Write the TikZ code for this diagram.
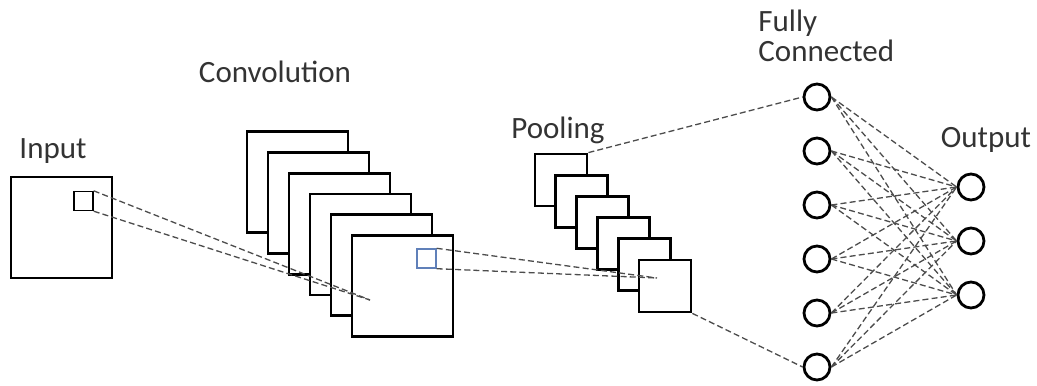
\documentclass[tikz,border=0pt]{standalone}
\usepackage{fontspec}
\setmainfont{Carlito}
\definecolor{patchblue}{RGB}{96,128,185}

\begin{document}
\begin{tikzpicture}[x=0.5pt,y=-0.5pt,
        fmap/.style={draw=black, fill=white, line width=1.4pt, inner sep=0pt, minimum size=#1},
        patch/.style={draw=#1, line width=0.7pt, inner sep=0pt, minimum size=9.5pt},
        neuron/.style={circle, draw=black, fill=white, line width=1.4pt, inner sep=0pt, minimum size=13pt},
        link/.style={draw=black!70, line width=0.65pt, dash pattern=on 3pt off 1.6pt},
        lbl/.style={font=\fontsize{15.5}{15}\selectfont, inner sep=0pt, text=black!80}]
    \useasboundingbox (0,0) rectangle (1037,385);
    % input image
    \node[fmap=50.5pt] (inp) at (61.5,227.5) {};
    \node[patch=black] (inpatch) at (83.5,201) {};
    \node[lbl, anchor=base] (inplbl) at (53,158) {Input};
    % convolution maps
    \foreach \i in {0,...,5}
        \node[fmap=50.5pt] (conv\i) at (297.5+21*\i,182+20.8*\i) {};
    \node[patch=patchblue] (convpatch) at (426.5,258.5) {};
    \node[lbl, anchor=base] (convlbl) at (275,83) {Convolution};
    % pooling maps
    \foreach \i in {0,...,5}
        \node[fmap=26pt] (pool\i) at (561+20.8*\i,180+21.2*\i) {};
    \node[lbl, anchor=base] (poollbl) at (558,138) {Pooling};
    % neurons
    \foreach \i in {0,...,5}
        \node[neuron] (fc\i) at (817,97+54*\i) {};
    \foreach \j in {0,1,2}
        \node[neuron] (out\j) at (971,187+54*\j) {};
    \node[lbl, anchor=base west, align=left] (fclbl) at (758,62) {Fully\\Connected};
    \node[lbl, anchor=base] (outlbl) at (986,147) {Output};
    % receptive fields
    \coordinate (convfocus) at (370,300);
    \coordinate (poolfocus) at (657,278);
    \draw[link] (inpatch.north east) -- (convfocus);
    \draw[link] (inpatch.south east) -- (convfocus);
    \draw[link] (convpatch.north east) -- (poolfocus);
    \draw[link] (convpatch.south east) -- (poolfocus);
    \draw[link] (pool0.north east) -- (fc0.west);
    \draw[link] (pool5.south east) -- (fc5.west);
    \foreach \i in {0,...,5}
        \foreach \j in {0,1,2}
            \draw[link] (fc\i.east) -- (out\j.west);
\end{tikzpicture}
\end{document}
